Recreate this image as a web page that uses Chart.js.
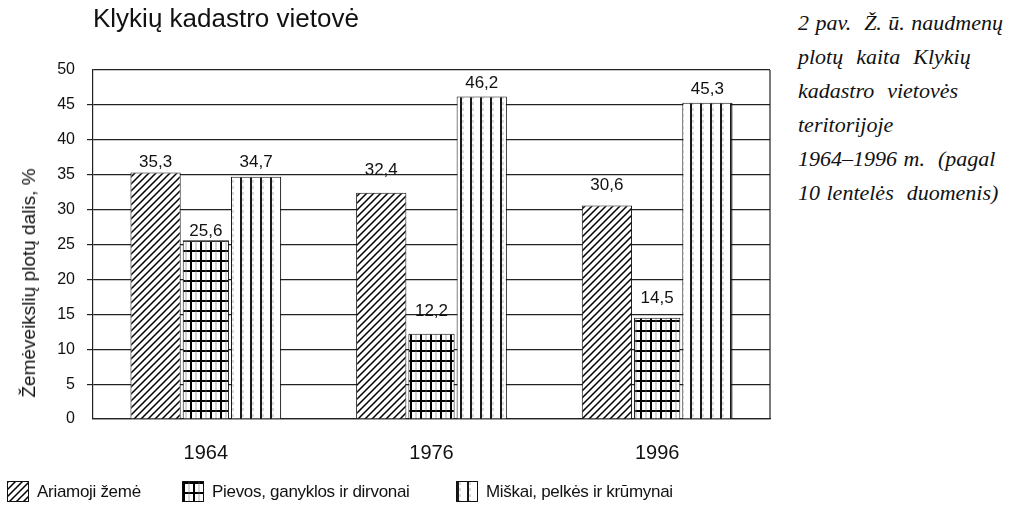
<!DOCTYPE html>
<html>
<head>
<meta charset="utf-8">
<script src="https://cdn.jsdelivr.net/npm/chart.js@4.4.0/dist/chart.umd.min.js"></script>
<style>
  body { margin: 0; background: #fff; width: 1030px; height: 507px; position: relative; overflow: hidden; font-family: "Liberation Sans", Arial, sans-serif; color: #111; }
  #wrap { position: absolute; left: 0; top: 0; width: 780px; height: 492px; }
  .title { position: absolute; left: 93px; top: 3px; font-size: 26px; white-space: nowrap; }
  .ytitle { position: absolute; left: 29px; top: 283px; font-size: 19px; white-space: nowrap; transform: translate(-50%, -50%) rotate(-90deg); }
  .caption { position: absolute; left: 798px; top: 6px; font-family: "Liberation Serif", serif; font-style: italic; font-size: 22px; line-height: 34px; white-space: pre; word-spacing: 1px; }
  .legend { position: absolute; left: 0; top: 481px; font-size: 17px; letter-spacing: -0.3px; }
  .legend .item { position: absolute; top: 0; display: flex; align-items: center; white-space: nowrap; }
  .legend canvas { border: 1px solid #111; margin-right: 8px; }
</style>
</head>
<body>
<div id="wrap"><canvas id="chart"></canvas></div>
<div class="title">Klykių kadastro vietovė</div>
<div class="ytitle">Žemėveikslių plotų dalis, %</div>
<div class="caption">2 pav.  Ž. ū. naudmenų
plotų  kaita  Klykių
kadastro  vietovės
teritorijoje
1964–1996 m.  (pagal
10 lentelės  duomenis)</div>
<div class="legend" id="legend"></div>
<script>
const years = ['1964', '1976', '1996'];
const arable = [35.3, 32.4, 30.6];
const meadows = [25.6, 12.2, 14.5];
const forests = [34.7, 46.2, 45.3];
const seriesNames = ['Ariamoji žemė', 'Pievos, ganyklos ir dirvonai', 'Miškai, pelkės ir krūmynai'];

// how far each value label sits above its bar, like in the printed figure
const labelLift = [[11, 24, 21], [10, 24, 20], [15, 14, 14]];

const makePattern = (kind) => {
  const c = document.createElement('canvas');
  const ctx = c.getContext('2d');
  ctx.strokeStyle = '#111';
  if (kind === 'diag') {
    c.width = 7; c.height = 7;
    ctx.fillStyle = '#fff'; ctx.fillRect(0, 0, 7, 7);
    ctx.lineWidth = 1.5;
    ctx.beginPath();
    ctx.moveTo(-1, 8); ctx.lineTo(8, -1);
    ctx.moveTo(-1, 1); ctx.lineTo(1, -1);
    ctx.moveTo(6, 8); ctx.lineTo(8, 6);
    ctx.stroke();
  } else if (kind === 'grid') {
    c.width = 10; c.height = 10;
    ctx.fillStyle = '#fff'; ctx.fillRect(0, 0, 10, 10);
    ctx.lineWidth = 2;
    ctx.beginPath();
    ctx.moveTo(1, 0); ctx.lineTo(1, 10);
    ctx.moveTo(0, 1); ctx.lineTo(10, 1);
    ctx.stroke();
    ctx.lineWidth = 0.6;
    ctx.strokeStyle = '#777';
    ctx.beginPath();
    ctx.moveTo(6, 0); ctx.lineTo(6, 10);
    ctx.stroke();
  } else {
    c.width = 10; c.height = 6;
    ctx.fillStyle = '#fff'; ctx.fillRect(0, 0, 10, 6);
    ctx.lineWidth = 1.8;
    ctx.beginPath();
    ctx.moveTo(1, 0); ctx.lineTo(1, 6);
    ctx.stroke();
    ctx.lineWidth = 0.6;
    ctx.strokeStyle = '#888';
    ctx.beginPath();
    ctx.moveTo(3, 0); ctx.lineTo(3, 3);
    ctx.stroke();
  }
  return ctx.createPattern(c, 'repeat');
};

const canvasEl = document.querySelector('#chart');
const patterns = ['diag', 'grid', 'vert'];

const fmt = (v) => v.toFixed(1).replace('.', ',');

const valueLabels = {
  id: 'valueLabels',
  afterDatasetsDraw(chart) {
    const ctx = chart.ctx;
    ctx.save();
    ctx.font = '17px "Liberation Sans", Arial, sans-serif';
    ctx.fillStyle = '#111';
    ctx.textAlign = 'center';
    ctx.textBaseline = 'middle';
    chart.data.datasets.forEach((ds, i) => {
      chart.getDatasetMeta(i).data.forEach((bar, j) => {
        ctx.fillText(fmt(ds.data[j]), bar.x, bar.y - labelLift[i][j] + 1);
      });
    });
    ctx.restore();
  }
};

const rightFrame = {
  id: 'rightFrame',
  beforeDatasetsDraw(chart) {
    const { ctx, chartArea } = chart;
    ctx.save();
    ctx.strokeStyle = '#222';
    ctx.lineWidth = 1.2;
    ctx.beginPath();
    ctx.moveTo(chartArea.right, chartArea.top);
    ctx.lineTo(chartArea.right, chartArea.bottom);
    ctx.stroke();
    ctx.restore();
  }
};

const sets = [arable, meadows, forests];

new Chart(canvasEl, {
  type: 'bar',
  data: {
    labels: years,
    datasets: sets.map((values, i) => ({
      label: seriesNames[i],
      data: values,
      backgroundColor: makePattern(patterns[i]),
      borderColor: '#111',
      borderWidth: 1,
      categoryPercentage: 0.668,
      barPercentage: i === 1 ? 0.92 : 1
    }))
  },
  options: {
    responsive: true,
    maintainAspectRatio: false,
    animation: false,
    layout: { padding: { top: 70, right: 10, bottom: 5, left: 0 } },
    plugins: {
      legend: { display: false },
      tooltip: { enabled: false }
    },
    scales: {
      x: {
        grid: { display: false, drawTicks: false },
        border: { display: true, color: '#222', width: 1.2 },
        ticks: { color: '#111', padding: 22, font: { family: '"Liberation Sans", Arial', size: 20 } }
      },
      y: {
        min: 0,
        max: 50,
        afterFit: (scale) => { scale.width = 93; },
        grid: {
          color: '#222',
          lineWidth: 1.2,
          tickLength: 6,
          tickColor: (c) => (c.tick && (c.tick.value === 0 || c.tick.value === 50)) ? 'rgba(0,0,0,0)' : '#222'
        },
        border: { display: true, color: '#222', width: 1.2 },
        ticks: { stepSize: 5, color: '#111', padding: 12, font: { family: '"Liberation Sans", Arial', size: 16 } }
      }
    }
  },
  plugins: [valueLabels, rightFrame]
});

// legend drawn as html so the spacing can follow the printed figure
const legendEl = document.querySelector('#legend');
const legendLeft = [7, 182, 456];
seriesNames.forEach((name, i) => {
  const item = document.createElement('div');
  item.className = 'item';
  item.style.left = legendLeft[i] + 'px';
  const sw = document.createElement('canvas');
  sw.width = 20; sw.height = 19;
  const sctx = sw.getContext('2d');
  sctx.fillStyle = makePattern(patterns[i]);
  sctx.fillRect(0, 0, 20, 19);
  item.appendChild(sw);
  const span = document.createElement('span');
  span.textContent = name;
  item.appendChild(span);
  legendEl.appendChild(item);
});
</script>
</body>
</html>
